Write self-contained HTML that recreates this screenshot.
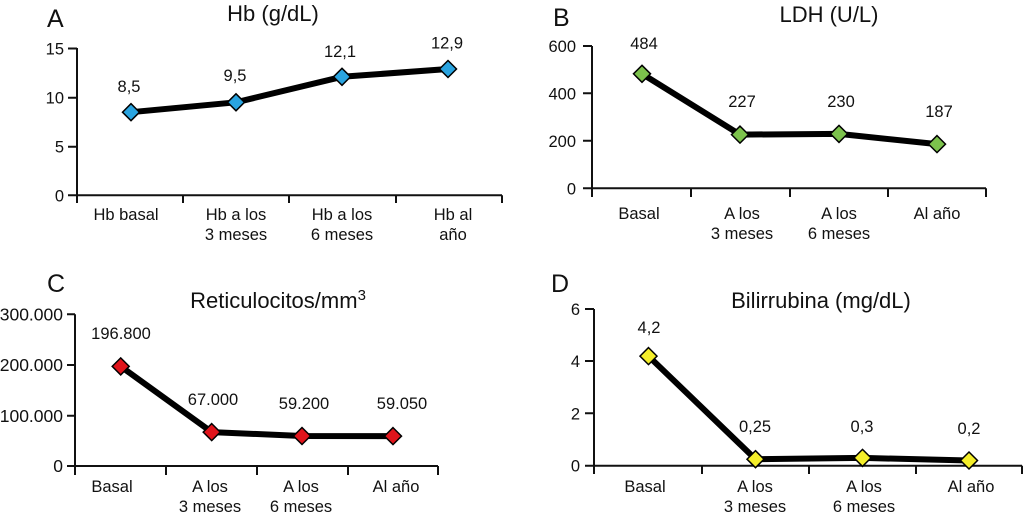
<!DOCTYPE html>
<html><head><meta charset="utf-8"><style>
html,body{margin:0;padding:0;background:#fff;}
svg{display:block;}
text{font-family:"Liberation Sans",Arial,sans-serif;fill:#111;}
.t{font-size:16.5px;}
.ti{font-size:22px;}
.L{font-size:25px;}
</style></head><body>
<svg width="1024" height="516" viewBox="0 0 1024 516" xmlns="http://www.w3.org/2000/svg">
<g stroke="#111" stroke-width="2" fill="none">
<!-- A axes -->
<path d="M77 48V195.3H502"/>
<path d="M68 48.5H77M68 97.7H77M68 146.7H77M68 195.3H77"/>
<path d="M77 195.3V203M183 195.3V203M289 195.3V203M396 195.3V203M502 195.3V203"/>
<!-- B axes -->
<path d="M592 46V188.3H986"/>
<path d="M583 46H592M583 93.3H592M583 140.8H592M583 188.3H592"/>
<path d="M592 188.3V197M691 188.3V197M790 188.3V197M888 188.3V197M986 188.3V197"/>
<!-- C axes -->
<path d="M75 314.3V466H438"/>
<path d="M67 314.3H75M67 365H75M67 415.7H75M67 466H75"/>
<path d="M75 466V475M166 466V475M257 466V475M348 466V475M438 466V475"/>
<!-- D axes -->
<path d="M594 309V465.7H1022"/>
<path d="M585 309H594M585 361H594M585 413.3H594M585 465.7H594"/>
<path d="M594 465.7V474M702 465.7V474M809 465.7V474M916 465.7V474M1022 465.7V474"/>
</g>
<!-- series lines -->
<g stroke="#000" stroke-width="6" fill="none" stroke-linejoin="round" stroke-linecap="round">
<polyline points="131,112.2 236,102.3 342,76.8 448,69"/>
<polyline points="642,73.8 740,134.6 839,133.9 937,144.1"/>
<polyline points="120.7,366.4 211.7,432.1 302,436 393,436.1"/>
<polyline points="648.5,356.1 755.5,459.2 862.5,457.9 969,460.5"/>
</g>
<!-- markers -->
<g stroke="#000" stroke-width="1.5">
<g fill="#2aa4e0">
<path d="M131 103.7l8.5 8.5-8.5 8.5-8.5-8.5z"/><path d="M236 93.8l8.5 8.5-8.5 8.5-8.5-8.5z"/><path d="M342 68.3l8.5 8.5-8.5 8.5-8.5-8.5z"/><path d="M448 60.5l8.5 8.5-8.5 8.5-8.5-8.5z"/>
</g>
<g fill="#7cc24c">
<path d="M642 65.3l8.5 8.5-8.5 8.5-8.5-8.5z"/><path d="M740 126.1l8.5 8.5-8.5 8.5-8.5-8.5z"/><path d="M839 125.4l8.5 8.5-8.5 8.5-8.5-8.5z"/><path d="M937 135.6l8.5 8.5-8.5 8.5-8.5-8.5z"/>
</g>
<g fill="#e0141b">
<path d="M120.7 357.9l8.5 8.5-8.5 8.5-8.5-8.5z"/><path d="M211.7 423.6l8.5 8.5-8.5 8.5-8.5-8.5z"/><path d="M302 427.5l8.5 8.5-8.5 8.5-8.5-8.5z"/><path d="M393 427.6l8.5 8.5-8.5 8.5-8.5-8.5z"/>
</g>
<g fill="#f4ee2a">
<path d="M648.5 347.6l8.5 8.5-8.5 8.5-8.5-8.5z"/><path d="M755.5 450.7l8.5 8.5-8.5 8.5-8.5-8.5z"/><path d="M862.5 449.4l8.5 8.5-8.5 8.5-8.5-8.5z"/><path d="M969 452l8.5 8.5-8.5 8.5-8.5-8.5z"/>
</g>
</g>
<!-- panel letters -->
<text class="L" x="47" y="27">A</text>
<text class="L" x="553" y="26">B</text>
<text class="L" x="47" y="292">C</text>
<text class="L" x="551" y="292">D</text>
<!-- titles -->
<text class="ti" x="273" y="21" text-anchor="middle">Hb (g/dL)</text>
<text class="ti" x="829" y="22" text-anchor="middle">LDH (U/L)</text>
<text class="ti" x="278" y="308" text-anchor="middle">Reticulocitos/mm<tspan dy="-8" font-size="15">3</tspan></text>
<text class="ti" x="821" y="308" text-anchor="middle">Bilirrubina (mg/dL)</text>
<!-- y tick labels -->
<g class="t" text-anchor="end">
<text x="64" y="54.5">15</text><text x="64" y="103.7">10</text><text x="64" y="152.7">5</text><text x="64" y="201.3">0</text>
<text x="576" y="52">600</text><text x="576" y="99.3">400</text><text x="576" y="146.8">200</text><text x="576" y="194.3">0</text>
<g font-size="17.5"><text x="63" y="320.5">300.000</text><text x="63" y="371.2">200.000</text><text x="63" y="421.9">100.000</text><text x="63" y="472.2">0</text></g>
<text x="580" y="315">6</text><text x="580" y="367">4</text><text x="580" y="419.3">2</text><text x="580" y="471.7">0</text>
</g>
<!-- value labels -->
<g class="t" text-anchor="middle">
<text x="129" y="92">8,5</text><text x="235" y="81">9,5</text><text x="340" y="57">12,1</text><text x="447" y="48.5">12,9</text>
<text x="644" y="49">484</text><text x="742" y="107">227</text><text x="841" y="107">230</text><text x="939" y="117">187</text>
<text x="121" y="339">196.800</text><text x="213" y="405">67.000</text><text x="304" y="409">59.200</text><text x="402" y="409">59.050</text>
<text x="649" y="333">4,2</text><text x="755" y="432">0,25</text><text x="862" y="432">0,3</text><text x="969" y="434">0,2</text>
</g>
<!-- x labels -->
<g class="t" text-anchor="middle">
<text x="126" y="220">Hb basal</text>
<text x="236" y="220">Hb a los</text><text x="236" y="240">3 meses</text>
<text x="342" y="220">Hb a los</text><text x="342" y="240">6 meses</text>
<text x="453" y="220">Hb al</text><text x="453" y="240">año</text>

<text x="639" y="219">Basal</text>
<text x="742" y="219">A los</text><text x="742" y="239">3 meses</text>
<text x="839" y="219">A los</text><text x="839" y="239">6 meses</text>
<text x="937" y="219">Al año</text>

<text x="112" y="492">Basal</text>
<text x="210" y="492">A los</text><text x="210" y="512">3 meses</text>
<text x="301" y="492">A los</text><text x="301" y="512">6 meses</text>
<text x="396" y="492">Al año</text>

<text x="645" y="492">Basal</text>
<text x="755" y="492">A los</text><text x="755" y="512">3 meses</text>
<text x="864" y="492">A los</text><text x="864" y="512">6 meses</text>
<text x="971" y="492">Al año</text>
</g>
</svg>
</body></html>
